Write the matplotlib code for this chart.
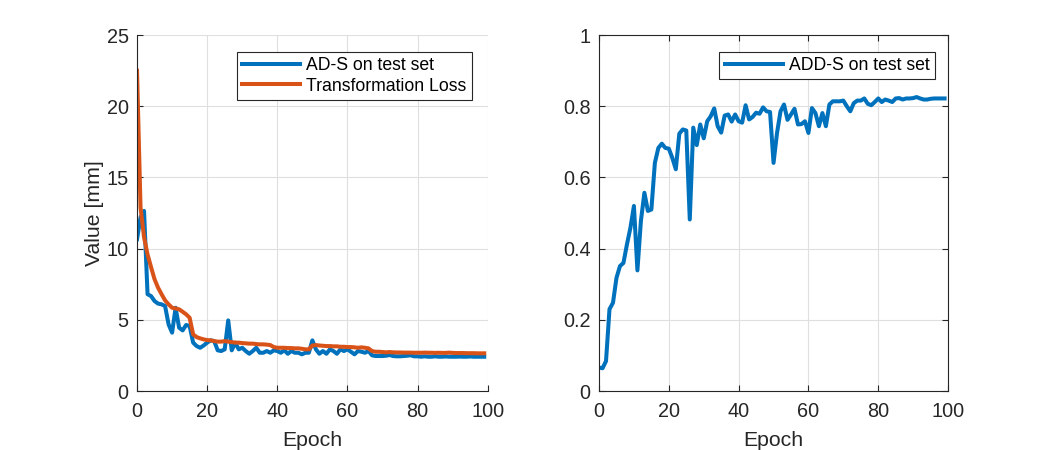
import matplotlib
matplotlib.use("Agg")
import matplotlib.pyplot as plt
from matplotlib.ticker import FuncFormatter

plt.rcParams["font.family"] = ["Liberation Sans", "DejaVu Sans"]

epochs = list(range(100))

ad_s = [
    10.66, 12.2, 12.65, 6.8, 6.67, 6.32, 6.14, 6.09, 5.97, 4.68,
    4.1, 5.85, 4.45, 4.26, 4.64, 4.57, 3.4, 3.16, 3.04, 3.2,
    3.4, 3.56, 3.51, 2.86, 2.81, 2.93, 4.96, 2.86, 3.4, 2.93,
    3.04, 2.81, 2.62, 2.81, 3.04, 2.69, 2.69, 2.81, 2.69, 2.86,
    2.81, 2.69, 2.86, 2.62, 2.81, 2.69, 2.69, 2.58, 2.69, 2.69,
    3.56, 2.93, 2.62, 2.81, 2.62, 2.93, 2.81, 2.62, 2.93, 2.81,
    2.93, 2.76, 2.58, 2.81, 2.76, 2.69, 2.81, 2.51, 2.46, 2.46,
    2.46, 2.48, 2.53, 2.46, 2.44, 2.44, 2.46, 2.48, 2.51, 2.44,
    2.44, 2.41, 2.44, 2.41, 2.41, 2.44, 2.41, 2.41, 2.43, 2.41,
    2.41, 2.41, 2.42, 2.41, 2.41, 2.43, 2.41, 2.41, 2.41, 2.41,
]

trans_loss = [
    22.5, 12.9, 10.8, 9.6, 8.7, 7.85, 7.26, 6.8, 6.37, 6.09,
    5.85, 5.8, 5.74, 5.57, 5.39, 5.15, 3.98, 3.79, 3.7, 3.63,
    3.58, 3.56, 3.51, 3.47, 3.47, 3.51, 3.47, 3.44, 3.4, 3.4,
    3.37, 3.35, 3.33, 3.33, 3.3, 3.28, 3.28, 3.26, 3.23, 3.09,
    3.04, 3.04, 3.04, 3.02, 3.02, 3.0, 3.0, 2.97, 2.93, 2.93,
    3.2, 3.23, 3.2, 3.18, 3.16, 3.16, 3.14, 3.14, 3.11, 3.11,
    3.09, 3.09, 3.07, 3.04, 3.07, 3.04, 3.0, 2.81, 2.76, 2.76,
    2.74, 2.72, 2.74, 2.72, 2.71, 2.71, 2.7, 2.7, 2.7, 2.69,
    2.69, 2.69, 2.7, 2.69, 2.69, 2.68, 2.69, 2.68, 2.68, 2.7,
    2.68, 2.67, 2.67, 2.67, 2.66, 2.66, 2.66, 2.65, 2.65, 2.65,
]

add_s = [
    0.066, 0.064, 0.084, 0.23, 0.248, 0.318, 0.351, 0.36, 0.412, 0.459,
    0.52, 0.339, 0.478, 0.557, 0.506, 0.51, 0.641, 0.683, 0.695, 0.683,
    0.681, 0.655, 0.623, 0.723, 0.735, 0.732, 0.482, 0.74, 0.691, 0.749,
    0.71, 0.758, 0.772, 0.794, 0.744, 0.726, 0.774, 0.777, 0.757, 0.777,
    0.758, 0.754, 0.803, 0.763, 0.77, 0.782, 0.779, 0.797, 0.786, 0.784,
    0.641, 0.725, 0.786, 0.805, 0.762, 0.777, 0.793, 0.749, 0.75, 0.758,
    0.725, 0.795, 0.781, 0.744, 0.781, 0.744, 0.805, 0.814, 0.814, 0.814,
    0.816, 0.8, 0.786, 0.809, 0.816, 0.816, 0.822, 0.807, 0.803, 0.812,
    0.822, 0.812, 0.819, 0.816, 0.812, 0.822, 0.823, 0.819, 0.822, 0.822,
    0.823, 0.826, 0.822, 0.819, 0.819, 0.821, 0.822, 0.822, 0.822, 0.822,
]

BLUE = "#0072BD"
ORANGE = "#D95319"
DARK = "#262626"
GRID = "#dfdfdf"


def style(ax, box):
    ax.grid(True, color=GRID, linewidth=0.8)
    ax.set_axisbelow(True)
    for side in ("left", "bottom"):
        ax.spines[side].set_color(DARK)
    for side in ("top", "right"):
        ax.spines[side].set_visible(box)
        ax.spines[side].set_color(DARK)
    ax.tick_params(direction="in", colors=DARK, labelsize=14.3, length=4,
                   top=box, right=box)
    ax.tick_params(axis="x", pad=8)
    ax.tick_params(axis="y", pad=6)
    ax.set_xlim(0, 100)
    ax.set_xticks([0, 20, 40, 60, 80, 100])
    ax.set_xlabel("Epoch", fontsize=15.3, color=DARK, labelpad=7)


def legend(ax, anchor):
    leg = ax.legend(loc="upper right", bbox_to_anchor=anchor, fontsize=12.7,
                    fancybox=False, framealpha=1, edgecolor=DARK,
                    borderpad=0.3, handlelength=3.3, handletextpad=0.35,
                    labelspacing=0.2, borderaxespad=0)
    leg.get_frame().set_linewidth(0.8)


fig = plt.figure(figsize=(10.5, 4.5), dpi=100)

ax1 = fig.add_axes([0.1305, 0.131, 0.334, 0.791])
ax1.plot(epochs, ad_s, color=BLUE, lw=2.9, label="AD-S on test set")
ax1.plot(epochs, trans_loss, color=ORANGE, lw=2.9, label="Transformation Loss")
style(ax1, box=False)
ax1.set_ylim(0, 25)
ax1.set_yticks([0, 5, 10, 15, 20, 25])
ax1.set_ylabel("Value [mm]", fontsize=15.3, color=DARK, labelpad=2)
legend(ax1, (0.955, 0.953))

ax2 = fig.add_axes([0.5705, 0.131, 0.3324, 0.791])
ax2.plot(epochs, add_s, color=BLUE, lw=2.9, label="ADD-S on test set")
style(ax2, box=True)
ax2.set_ylim(0, 1)
ax2.set_yticks([0, 0.2, 0.4, 0.6, 0.8, 1])
ax2.yaxis.set_major_formatter(FuncFormatter(lambda v, p: f"{v:g}"))
legend(ax2, (0.963, 0.953))

fig.savefig("out.png", dpi=100)
